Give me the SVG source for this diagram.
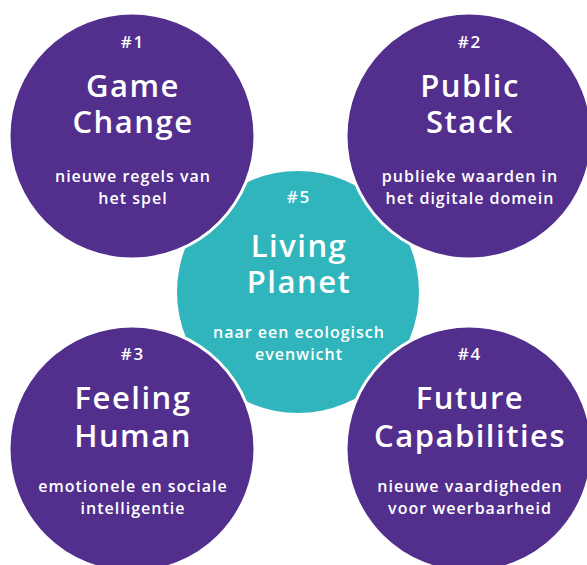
<svg xmlns="http://www.w3.org/2000/svg" width="587" height="565" viewBox="0 0 587 565">
<style>
.p{fill:#522e8d;stroke:#fff;stroke-width:3}
.t{fill:#30b5bc}
text{fill:#fff;font-family:"Open Sans","Liberation Sans",sans-serif;text-anchor:middle;font-weight:600}
.n{font-size:17px;letter-spacing:2px}
.h{font-size:31px;letter-spacing:1.5px}
.s{font-size:16px;letter-spacing:1px}
</style>
<rect width="587" height="565" fill="#fff"/>
<g id="connectors"/>
<g id="n5">
<circle class="t" cx="298" cy="292" r="121"/>
<text class="n" x="299" y="203">#5</text>
<text class="h" x="299" y="257">Living</text>
<text class="h" x="299" y="293">Planet</text>
<text class="s" x="299" y="338">naar een ecologisch</text>
<text class="s" x="299" y="360">evenwicht</text>
</g>
<g id="n1">
<circle class="p" cx="132" cy="136" r="123"/>
<text class="n" x="133" y="48">#1</text>
<text class="h" x="133" y="97">Game</text>
<text class="h" x="133" y="133">Change</text>
<text class="s" x="133" y="182">nieuwe regels van</text>
<text class="s" x="133" y="204">het spel</text>
</g>
<g id="n2">
<circle class="p" cx="469" cy="136" r="123"/>
<text class="n" x="470" y="48">#2</text>
<text class="h" x="470" y="97">Public</text>
<text class="h" x="470" y="133">Stack</text>
<text class="s" x="470" y="182">publieke waarden in</text>
<text class="s" x="470" y="204">het digitale domein</text>
</g>
<g id="n3">
<circle class="p" cx="132" cy="449" r="123"/>
<text class="n" x="133" y="360">#3</text>
<text class="h" x="133" y="409">Feeling</text>
<text class="h" x="133" y="447">Human</text>
<text class="s" x="133" y="492">emotionele en sociale</text>
<text class="s" x="133" y="514">intelligentie</text>
</g>
<g id="n4">
<circle class="p" cx="469" cy="449" r="123"/>
<text class="n" x="470" y="360">#4</text>
<text class="h" x="470" y="409">Future</text>
<text class="h" x="470" y="447">Capabilities</text>
<text class="s" x="470" y="492">nieuwe vaardigheden</text>
<text class="s" x="470" y="514">voor weerbaarheid</text>
</g>
</svg>
